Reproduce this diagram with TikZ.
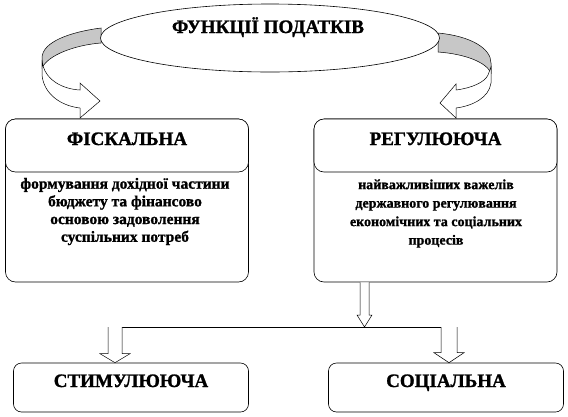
\documentclass[tikz,border=0pt]{standalone}
\usepackage{fontspec}
\setmainfont[BoldFeatures={FakeBold=1.2}]{Liberation Serif}
\usepackage{xcolor}
\usetikzlibrary{shapes.geometric, calc, positioning}

% hollow block arrow pointing down: from, to, half shaft, half head, head length
\newcommand{\hollowdown}[5]{%
  \path [hollow] ($(#1)+(-#3,0)$) -- ($(#2)+(-#3,-#5)$) -- ($(#2)+(-#4,-#5)$) -- (#2)
    -- ($(#2)+(#4,-#5)$) -- ($(#2)+(#3,-#5)$) -- ($(#1)+(#3,0)$);
}

\begin{document}
\begin{tikzpicture}[x=1pt, y=-1pt, node distance=0pt]
    \tikzstyle{panel} = [rectangle, draw, line width=0.6pt, rounded corners=10pt, minimum width=243pt, minimum height=163pt, inner sep=0pt]
    \tikzstyle{head} = [rectangle, draw, line width=0.6pt, fill=white, rounded corners=10pt, minimum width=243pt, minimum height=53pt, inner sep=0pt]
    \tikzstyle{leaf} = [rectangle, draw, line width=0.6pt, rounded corners=8pt, minimum width=235pt, minimum height=49pt, inner sep=0pt]
    \tikzstyle{headtext} = [font=\bfseries\fontsize{19}{21}\selectfont, inner sep=0pt, anchor=base]
    \tikzstyle{bodytext} = [font=\bfseries\fontsize{15.5}{17.7}\selectfont, align=center, inner sep=0pt]
    \tikzstyle{hollow} = [draw, line width=0.5pt, fill=white]
    \tikzstyle{bandback} = [draw, line width=0.5pt, fill=black!22]
    \tikzstyle{bandfront} = [draw, line width=0.5pt, fill=white]
    \tikzstyle{line} = [draw, line width=0.7pt]

    \useasboundingbox (0,0) rectangle (568,416);

    % curved arrows round the ellipse
    \path [bandback] (101,28) .. controls (70,32) and (42,42) .. (42,58) -- (42,68)
        .. controls (48,55) and (75,45) .. (101,43) -- cycle;
    \path [bandfront] (42,60) -- (42,75) .. controls (44,95) and (62,106) .. (80,108)
        -- (80,118) -- (100,101) -- (80,83) -- (80,90) .. controls (62,89) and (47,80) .. (43,66) -- cycle;
    \path [bandback] (438,33) .. controls (470,36) and (491,48) .. (491,63) -- (491,73)
        .. controls (486,62) and (465,54) .. (438,52) -- cycle;
    \path [bandfront] (491,67) -- (491,83) .. controls (489,98) and (472,106) .. (456,108)
        -- (456,118) -- (440,103) -- (456,84) -- (456,90) .. controls (472,88) and (485,82) .. (488,75) -- cycle;

    \node [ellipse, draw, line width=0.6pt, fill=white, minimum width=339pt, minimum height=68pt, inner sep=0pt] (taxes) at (270,38) {};
    \node [headtext] (taxtitle) at (268,33) {ФУНКЦІЇ ПОДАТКІВ};

    % upper boxes
    \node [panel] (fiscal) at (127,200.5) {};
    \node [head, below=of fiscal.north] (fiscalhead) {};
    \node [headtext] (fiscallabel) at ([yshift=0.5pt]fiscalhead.center) {ФІСКАЛЬНА};
    \node [bodytext] (fiscaltext) at (125,211.5) {формування дохідної частини\\бюджету та фінансово\\основою задоволення\\суспільних потреб};

    \node [panel] (regul) at (435.5,200.5) {};
    \node [head, below=of regul.north] (regulhead) {};
    \node [headtext] (regullabel) at ([yshift=0.5pt]regulhead.center) {РЕГУЛЮЮЧА};
    \node [bodytext, font=\bfseries\fontsize{14}{18.5}\selectfont] (regultext) at (436,213.5) {найважливіших важелів\\державного регулювання\\економічних та соціальних\\процесів};

    % lower boxes
    \node [leaf] (stim) at (131,387.5) {};
    \node [headtext] (stimlabel) at ([yshift=0.5pt]stim.center) {СТИМУЛЮЮЧА};
    \node [leaf] (social) at (446,387.5) {};
    \node [headtext] (sociallabel) at ([yshift=0.5pt]social.center) {СОЦІАЛЬНА};

    % block arrows
    \coordinate (regout) at (regul.south -| 364.5,0);
    \coordinate (fork) at (364.5,327);
    \coordinate (stimtop) at (115,327);
    \coordinate (stimin) at (stim.north -| stimtop);
    \coordinate (soctop) at (449,327);
    \coordinate (socin) at (social.north -| soctop);

    \hollowdown{regout}{fork}{4.5}{7.5}{12}
    \path [line] ($(stimtop)+(7,0)$) -- ($(soctop)+(8,0)$);
    \hollowdown{stimtop}{stimin}{7}{15}{9}
    \hollowdown{soctop}{socin}{8}{15}{10}
\end{tikzpicture}
\end{document}
